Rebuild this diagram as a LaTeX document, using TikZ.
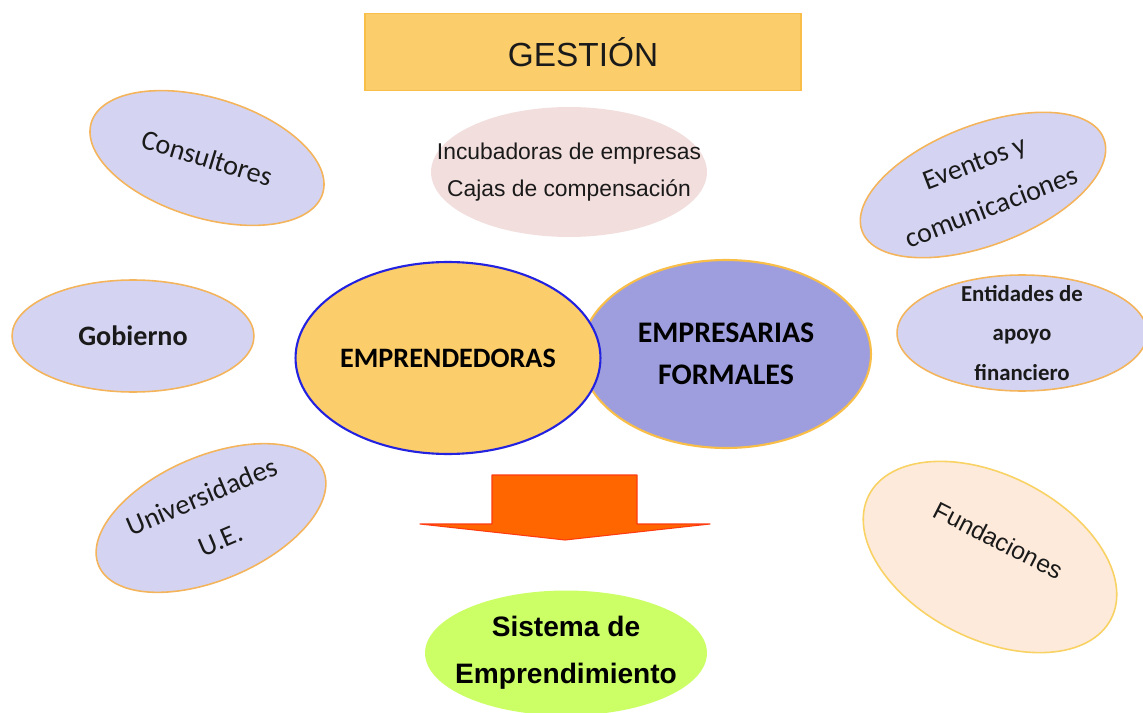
\documentclass[tikz,border=0pt]{standalone}
\usepackage{fontspec}
\setmainfont{Carlito}
\newfontfamily\arialfont{Liberation Sans}
\usetikzlibrary{shapes}
\definecolor{oro}{HTML}{FCCD6B}
\definecolor{orofilo}{HTML}{F8BE48}
\definecolor{lila}{HTML}{D4D4F2}
\definecolor{morado}{HTML}{9E9EDE}
\definecolor{filo}{HTML}{F4B45C}
\definecolor{rosa}{HTML}{F2DEDD}
\definecolor{durazno}{HTML}{FDEADA}
\definecolor{durazfilo}{HTML}{F9D264}
\definecolor{lima}{HTML}{CCFF66}
\definecolor{naranja}{HTML}{FF6600}
\definecolor{rojizo}{HTML}{FF3A10}
\definecolor{azul}{HTML}{2222E0}
\definecolor{tinta}{HTML}{1A1A1A}
\tikzstyle{block} = [rectangle, draw=orofilo, fill=oro, line width=0.8pt,
    minimum width=8.72cm, minimum height=1.54cm, text=tinta]
\tikzstyle{actor} = [ellipse, draw=filo, fill=lila, line width=0.9pt,
    inner sep=0pt, align=center, text=tinta, font=\fontsize{16}{27}\selectfont]
\tikzstyle{central} = [ellipse, line width=1.2pt, inner sep=0pt, align=center,
    text=black, font=\bfseries\fontsize{16}{24}\selectfont]

\begin{document}
\begin{tikzpicture}[x=0.02cm, y=-0.02cm]
    \useasboundingbox (0,0) rectangle (1143,713);
    % Place nodes
    \node [block, font=\arialfont\fontsize{19}{22}\selectfont] (gestion) at (583,52) {GESTIÓN};
    \node [actor, rotate=-17, minimum width=4.84cm, minimum height=2.4cm] (consultores) at (207,158) {Consultores};
    \node [actor, minimum width=4.84cm, minimum height=2.24cm, font=\bfseries\fontsize{16}{22}\selectfont] (gobierno) at (133,336) {Gobierno};
    \node [actor, rotate=23, minimum width=4.88cm, minimum height=2.48cm] (universidades) at (211,518) {Universidades\\U.E.};
    \node [actor, fill=rosa, draw=none, inner xsep=-0.69cm, minimum width=5.48cm, minimum height=2.6cm,
        font=\arialfont\fontsize{13}{21}\selectfont] (incubadoras) at (569,172) {Incubadoras de empresas\\Cajas de compensación};
    \node [actor, rotate=21, minimum width=5.0cm, minimum height=2.4cm] (eventos) at (983,185) {Eventos y\\comunicaciones};
    \node [actor, inner ysep=-0.2cm, minimum width=5.0cm, minimum height=2.32cm,
        font=\bfseries\fontsize{13}{22.5}\selectfont] (entidades) at (1022,333) {Entidades de\\apoyo\\financiero};
    \node [actor, rotate=-27, fill=durazno, draw=durazfilo, minimum width=5.44cm, minimum height=3.28cm,
        text depth=0.76cm, font=\arialfont\fontsize{14}{20}\selectfont] (fundaciones) at (990,557) {Fundaciones};

    \node [central, draw=orofilo, fill=morado, minimum width=5.8cm, minimum height=3.76cm,
        font=\bfseries\fontsize{17}{24}\selectfont] (formales) at (726,354) {EMPRESARIAS\\FORMALES};
    \node [central, draw=azul, fill=oro, minimum width=6.0cm, minimum height=3.84cm] (emprendedoras) at (448,358) {EMPRENDEDORAS};

    \node [ellipse, fill=lima, inner xsep=-0.25cm, inner ysep=0pt, minimum width=5.64cm, minimum height=2.5cm,
        align=center, text=black, font=\arialfont\bfseries\fontsize{16}{27}\selectfont] (sistema) at (566,653) {Sistema de\\Emprendimiento};

    % big arrow
    \filldraw [fill=naranja, draw=rojizo, line width=0.6pt, line join=round]
        (492,475) -- (637,475) -- (637,524) -- (710,524) -- (565,540)
        -- (420,524) -- (492,524) -- cycle;
\end{tikzpicture}
\end{document}
